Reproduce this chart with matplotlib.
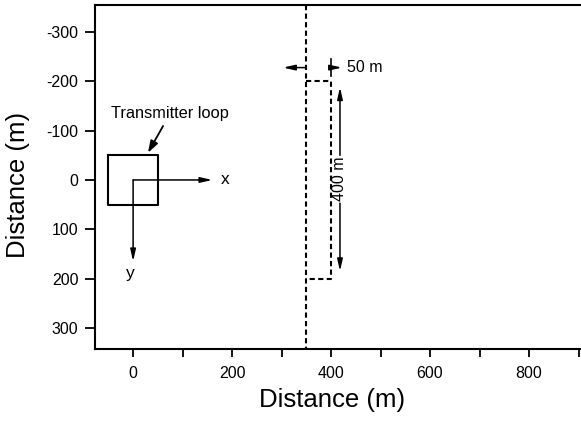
import matplotlib
matplotlib.use('Agg')
import matplotlib.pyplot as plt

plt.rcParams['font.family'] = ['Liberation Sans', 'DejaVu Sans']

# ---- data ----
x_tick_values = [0, 100, 200, 300, 400, 500, 600, 700, 800, 900]
x_tick_labels = ['0', '', '200', '', '400', '', '600', '', '800', '']
y_tick_values = [-300, -200, -100, 0, 100, 200, 300]
y_tick_labels = ['-300', '-200', '-100', '0', '100', '200', '300']

loop_x = [-50, 50, 50, -50, -50]
loop_y = [-50, -50, 50, 50, -50]
x_axis_tip = 160
y_axis_tip = 165

contact_x = 350
plate_x = [350, 400, 400, 350]
plate_y = [-200, -200, 200, 200]

xlim = (-77, 905)
ylim = (343, -355)

W, H = 581, 422
fig = plt.figure(figsize=(W / 100, H / 100), dpi=100)
ax = fig.add_axes([95 / W, 1 - 349 / H, (W - 95) / W, (349 - 5) / H])
ax.set_xlim(*xlim)
ax.set_ylim(*ylim)

for s in ['top', 'left', 'bottom']:
    ax.spines[s].set_linewidth(1.5)
ax.spines['right'].set_visible(False)

ax.set_xticks(x_tick_values)
ax.set_xticklabels(x_tick_labels, fontsize=11.5)
ax.set_yticks(y_tick_values)
ax.set_yticklabels(y_tick_labels, fontsize=11.5)
ax.tick_params(axis='x', direction='out', length=6, width=1.3, pad=6)
ax.tick_params(axis='y', direction='out', length=7, width=1.3, pad=5)

# transmitter loop
ax.plot(loop_x, loop_y, color='k', lw=1.5)

arrow = dict(arrowstyle='-|>,head_length=0.7,head_width=0.16', color='k', lw=1.1,
             shrinkA=0, shrinkB=0)
ax.annotate('', xy=(x_axis_tip, 0), xytext=(0, 0), arrowprops=arrow)
ax.annotate('', xy=(0, y_axis_tip), xytext=(0, 0), arrowprops=arrow)
ax.plot([0, 0], [0, 1], color='k', lw=1.1)
ax.text(178, 0, 'x', fontsize=12.5, ha='left', va='center')
ax.text(-5, 190, 'y', fontsize=12.5, ha='center', va='center')

ax.annotate('Transmitter loop', xy=(30, -55), xytext=(75, -120),
            fontsize=11.8, ha='center', va='bottom',
            arrowprops=dict(arrowstyle='-|>,head_length=0.6,head_width=0.2',
                            color='k', lw=1.3, shrinkA=2, shrinkB=0))

# conductor
dash = (0, (2.5, 1.6))
ax.plot([contact_x, contact_x], [ylim[1], ylim[0]], color='k', lw=1.5, ls=dash)
ax.plot(plate_x, plate_y, color='k', lw=1.5, ls=dash)

# 50 m dimension
ax.annotate('', xy=(303, -228), xytext=(350, -228), arrowprops=arrow)
ax.plot([400, 400], [-245, -210], color='k', lw=1.2)
ax.annotate('', xy=(422, -228), xytext=(400, -228), arrowprops=arrow)
ax.text(432, -228, '50 m', fontsize=11.5, ha='left', va='center')

# 400 m dimension
ax.text(418, -2, '400 m', fontsize=11.5, ha='center', va='center', rotation=90)
ax.annotate('', xy=(418, -188), xytext=(418, -50), arrowprops=arrow)
ax.annotate('', xy=(418, 185), xytext=(418, 47), arrowprops=arrow)

fig.text(332 / W, 1 - 400 / H, 'Distance (m)', fontsize=18.5, ha='center', va='center')
fig.text(18 / W, 1 - 185 / H, 'Distance (m)', fontsize=18.5, ha='center', va='center',
         rotation=90)

fig.savefig('out.png', dpi=100)
